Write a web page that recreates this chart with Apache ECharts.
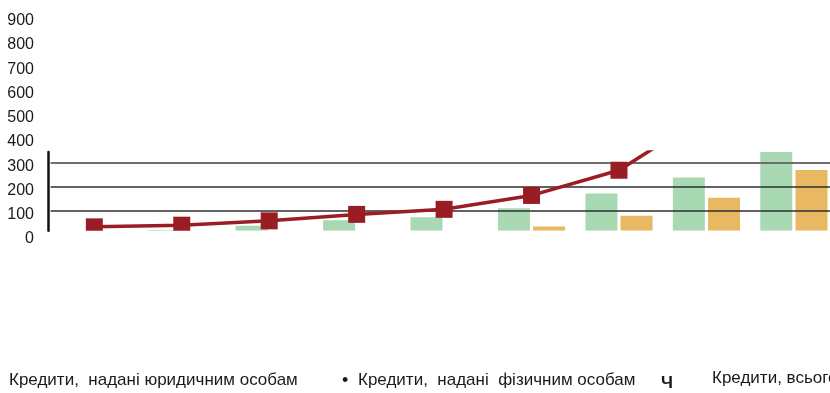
<!DOCTYPE html>
<html>
<head>
<meta charset="utf-8">
<script src="https://cdn.jsdelivr.net/npm/echarts@6/dist/echarts.min.js"></script>
<style>
  html, body { margin: 0; padding: 0; background: #fff; overflow: hidden; }
  #chart { width: 845px; height: 393px; }
</style>
</head>
<body>
<div id="chart"></div>
<script>
// Periods along the horizontal axis
const categories = ['1', '2', '3', '4', '5', '6', '7', '8', '9'];
// Loans to legal entities (green bars)
const legalEntities = [12, 20, 38, 61, 73, 111, 172, 239, 380];
// Loans to individuals (orange bars)
const individuals = [3, 5, 8, 12, 16, 35, 79, 154, 270];
// Total loans (line with square markers)
const totalLoans = [33, 40, 58, 85, 106, 164, 269, 500, 700];
// Scale labels shown at the left
const scaleTicks = [0, 100, 200, 300, 400, 500, 600, 700, 800, 900];
// Reference lines across the plot
const guideLines = [300, 200, 100];

const legendNames = [
  'Кредити,  надані юридичним особам',
  'Кредити,  надані  фізичним особам',
  'Кредити, всього'
];

const font = 'Liberation Sans, Arial, sans-serif';
const chart = echarts.init(document.getElementById('chart'), null, { renderer: 'canvas' });

chart.setOption({
  animation: false,
  backgroundColor: '#ffffff',
  grid: [
    // scale column
    { left: 40, top: 20.8, height: 218, width: 1 },
    // plot area (runs past the right edge of the page)
    { left: 50.6, top: 152, width: 787, height: 78.7 }
  ],
  xAxis: [
    { gridIndex: 0, type: 'value', show: false },
    {
      gridIndex: 1, type: 'category', data: categories,
      axisLine: { show: false }, axisTick: { show: false }, axisLabel: { show: false },
      splitLine: { show: false }
    }
  ],
  yAxis: [
    {
      gridIndex: 0, type: 'value', min: scaleTicks[0], max: scaleTicks[scaleTicks.length - 1], interval: 100,
      axisLine: { show: false }, axisTick: { show: false }, splitLine: { show: false },
      axisLabel: { color: '#1a1a1a', fontSize: 16, fontFamily: font, margin: 6 }
    },
    {
      gridIndex: 1, type: 'value', min: 17, max: 345, offset: 2,
      axisLine: { show: true, lineStyle: { color: '#111', width: 2.5 } },
      axisTick: { show: false }, axisLabel: { show: false }, splitLine: { show: false }
    }
  ],
  series: [
    {
      type: 'line', xAxisIndex: 1, yAxisIndex: 1, data: [], z: 1,
      markLine: {
        silent: true, symbol: 'none', label: { show: false },
        data: guideLines.map((v, i) => ({
          yAxis: v,
          lineStyle: i === 0
            ? { color: '#6e6e6e', width: 2.2, type: 'solid' }
            : { color: '#2e2e2e', width: 1.6, type: 'solid' }
        }))
      }
    },
    {
      name: legendNames[0], type: 'bar', xAxisIndex: 1, yAxisIndex: 1,
      data: legalEntities, barWidth: 32, barGap: '10%', z: 3,
      itemStyle: { color: '#a9d9b2' }
    },
    {
      name: legendNames[1], type: 'bar', xAxisIndex: 1, yAxisIndex: 1,
      data: individuals, barWidth: 32, barGap: '10%', z: 3,
      itemStyle: { color: '#e9b862' }
    },
    {
      name: legendNames[2], type: 'line', xAxisIndex: 1, yAxisIndex: 1,
      data: totalLoans, z: 5,
      symbol: 'rect', symbolSize: 17,
      lineStyle: { color: '#9a1d24', width: 3.5 },
      itemStyle: { color: '#9a1d24' }
    }
  ],
  graphic: [
    // trims marks below the plot floor
    { type: 'rect', z: 100, shape: { x: 50, y: 230.7, width: 800, height: 8 }, style: { fill: '#ffffff' } },
    { type: 'text', z: 101, left: 9, top: 372, style: { text: legendNames[0], font: '17px ' + font, fill: '#1a1a1a' } },
    { type: 'text', z: 101, left: 342, top: 372, style: { text: '•', font: '18px ' + font, fill: '#1a1a1a' } },
    { type: 'text', z: 101, left: 358, top: 372, style: { text: legendNames[1], font: '17px ' + font, fill: '#1a1a1a' } },
    { type: 'text', z: 101, left: 661, top: 375, style: { text: 'Ч', font: 'bold 17px ' + font, fill: '#1a1a1a' } },
    { type: 'text', z: 101, left: 712, top: 370, style: { text: legendNames[2], font: '17px ' + font, fill: '#1a1a1a' } }
  ]
});
</script>
</body>
</html>
